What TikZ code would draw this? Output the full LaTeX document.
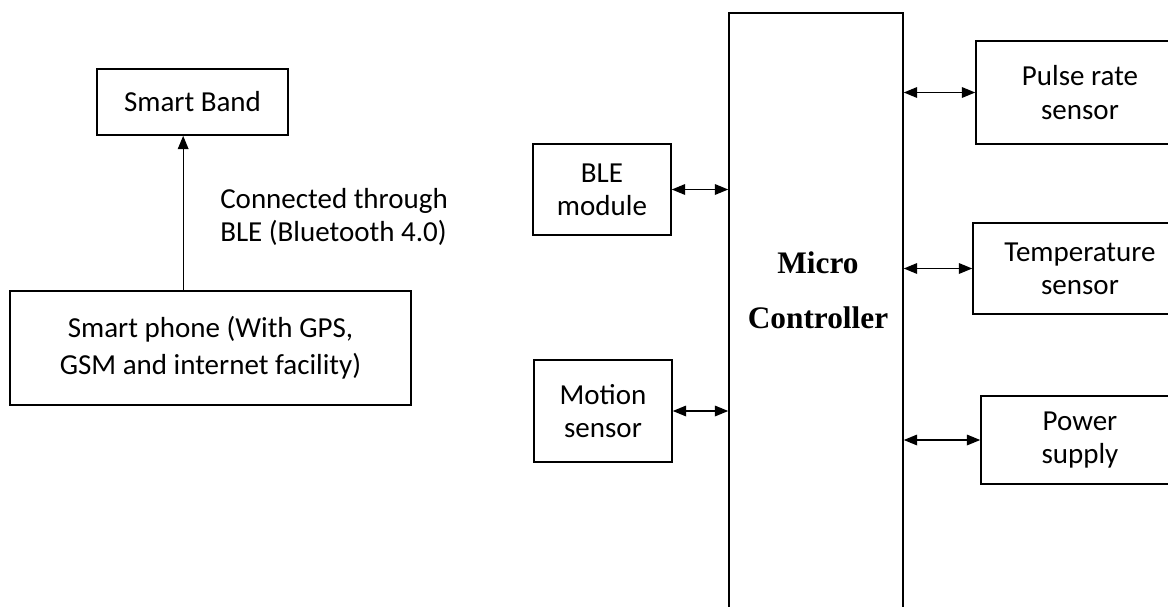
\documentclass[tikz,border=0pt]{standalone}
\usepackage{fontspec}
\setmainfont{Carlito}
\newfontfamily\mcfont{Liberation Serif}
\usepackage{tikz}
\usetikzlibrary{arrows.meta,positioning,calc}
\tikzstyle{block} = [draw, line width=1.2pt, rectangle, align=center, inner sep=0pt, font=\fontsize{21.75}{25}\selectfont]
\tikzstyle{arrow} = [line width=0.9pt, {Triangle[length=10pt,width=8pt]}-{Triangle[length=10pt,width=8pt]}]
\tikzstyle{uparrow} = [line width=0.9pt, -{Triangle[length=10pt,width=8pt]}]

\begin{document}
\begin{tikzpicture}[x=0.75pt, y=-0.75pt]
\clip (0,0) rectangle (1168,607);

% Phone side
\node[block, minimum width=143.25pt, minimum height=49.5pt] (band) at (192.5,102) {Smart Band};
\node[block, minimum width=300.75pt, minimum height=85.5pt, font=\fontsize{21.75}{27.75}\selectfont] (phone) at (210.5,348) {Smart phone (With GPS,\\GSM and internet facility)};
\draw[uparrow] ([xshift=-7pt]band.south |- phone.north) -- ([xshift=-7pt]band.south);
\node[anchor=west, align=left, inner sep=0pt, font=\fontsize{21.75}{24.75}\selectfont] (ble link) at (220,217) {Connected through\\BLE (Bluetooth 4.0)};

% Micro controller
\node[block, minimum width=130.5pt, minimum height=470pt] (micro) at (816,326.5) {};
\node[align=center, inner sep=0pt, font=\mcfont\bfseries\fontsize{23.5}{41}\selectfont] (micro text) at (818,290) {Micro\\Controller};

% Left blocks
\node[block, minimum width=103.5pt, minimum height=68.25pt] (blemod) at (602,189.5) {BLE\\module};
\node[block, minimum width=103.5pt, minimum height=76.5pt] (motion) at (603,411) {Motion\\sensor};

% Right blocks
\node[block, minimum width=156pt, minimum height=77.25pt] (pulse) at (1080,92.5) {Pulse rate\\sensor};
\node[block, minimum width=160.5pt, minimum height=68.25pt] (temp) at (1080,268.5) {Temperature\\sensor};
\node[block, minimum width=148.5pt, minimum height=66pt] (power) at (1080,440) {Power\\supply};

% Links
\draw[arrow] (blemod.east) -- (micro.west |- blemod.east);
\draw[arrow] (motion.east) -- (micro.west |- motion.east);
\draw[arrow] (micro.east |- pulse.west) -- (pulse.west);
\draw[arrow] (micro.east |- temp.west) -- (temp.west);
\draw[arrow] (micro.east |- power.west) -- (power.west);
\end{tikzpicture}
\end{document}
